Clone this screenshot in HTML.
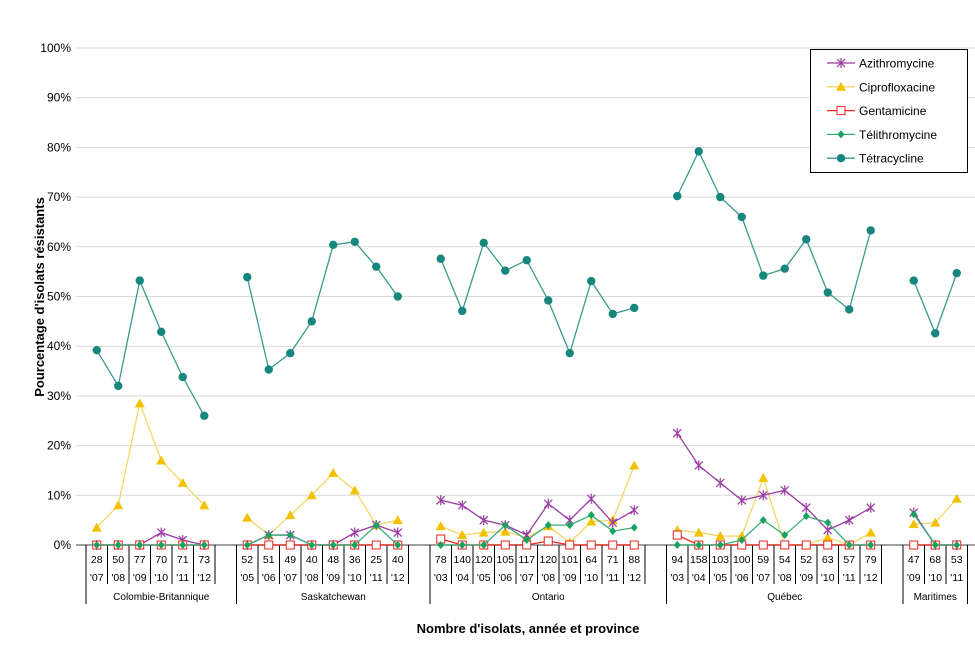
<!DOCTYPE html>
<html><head><meta charset="utf-8"><style>
body{margin:0;background:#fff;font-family:"Liberation Sans",sans-serif;}
svg text{font-family:"Liberation Sans",sans-serif;}
</style></head><body>
<svg id="chart" width="975" height="647" xmlns="http://www.w3.org/2000/svg">
<g id="grid"></g>
<g id="yaxis"></g>
<g id="xaxis"></g>
<g id="series"></g>
<text transform="translate(44,297) rotate(-90)" text-anchor="middle" font-size="13" font-weight="bold" fill="#000">Pourcentage d'isolats résistants</text>
<text x="528" y="633" text-anchor="middle" font-size="13" font-weight="bold" fill="#000">Nombre d'isolats, année et province</text>
<g id="legend"></g>
</svg>
<script>
const groups = ["Colombie-Britannique","Saskatchewan","Ontario","Québec","Maritimes"];
const counts = [["28","50","77","70","71","73"],["52","51","49","40","48","36","25","40"],["78","140","120","105","117","120","101","64","71","88"],["94","158","103","100","59","54","52","63","57","79"],["47","68","53"]];
const years = [["'07","'08","'09","'10","'11","'12"],["'05","'06","'07","'08","'09","'10","'11","'12"],["'03","'04","'05","'06","'07","'08","'09","'10","'11","'12"],["'03","'04","'05","'06","'07","'08","'09","'10","'11","'12"],["'09","'10","'11"]];
const azithro = [[0,0,0,2.5,1,0],[0,2,2,0,0,2.5,4,2.5],[9,8,5,4,2,8.3,5,9.3,4.5,7],[22.5,16,12.5,9,10,11,7.5,3,5,7.5],[6.5,0,0]];
const cipro = [[3.5,8,28.5,17,12.5,8],[5.5,2,6,10,14.5,11,4,5],[3.8,2,2.5,2.7,1.5,3.8,0.5,4.7,5,16],[3,2.5,1.8,1.8,13.5,0,0,1.5,0,2.5],[4.2,4.5,9.3]];
const genta = [[0,0,0,0,0,0],[0,0,0,0,0,0,0,0],[1.2,0,0,0,0,0.8,0,0,0,0],[2,0,0,0,0,0,0,0,0,0],[0,0,0]];
const telithro = [[0,0,0,0,0,0],[0,2,2,0,0,0,4,0],[0,0,0,4,1,4,4,6,2.8,3.5],[0,0,0,1,5,2,5.8,4.5,0,0],[6.2,0,0]];
const tetra = [[39.2,32,53.2,42.9,33.8,26],[53.9,35.3,38.6,45,60.4,61,56,50],[57.6,47.1,60.8,55.2,57.3,49.2,38.6,53.1,46.5,47.7],[70.2,79.2,70,66,54.2,55.6,61.5,50.8,47.4,63.3],[53.2,42.6,54.7]];
const yTicks = [0,10,20,30,40,50,60,70,80,90,100];

const NS="http://www.w3.org/2000/svg";
const X0=86, SLOT=21.5, Y0=545, Y100=48;
const yS=v=>Y0-(Y0-Y100)*v/100;
const starts=[];let s=0;groups.forEach((g,i)=>{starts.push(s);s+=counts[i].length+1;});
const xS=(gi,i)=>X0+(starts[gi]+i+0.5)*SLOT;
function el(tag,attrs,parent){const e=document.createElementNS(NS,tag);for(const k in attrs)e.setAttribute(k,attrs[k]);parent.appendChild(e);return e;}
const grid=document.getElementById('grid'),yax=document.getElementById('yaxis'),xax=document.getElementById('xaxis'),ser=document.getElementById('series'),leg=document.getElementById('legend');
yTicks.forEach(t=>{
  if(t>0){const l=el('line',{x1:76,x2:975,y1:yS(t),y2:yS(t),stroke:'#d9d9d9','stroke-width':1},grid);
  
  }
  const tx=el('text',{x:71,y:yS(t)+4,'text-anchor':'end','font-size':12,fill:'#000'},yax);
  tx.textContent=t+'%';
  
  
});
el('line',{x1:76,x2:975,y1:Y0,y2:Y0,stroke:'#808080','stroke-width':1.5},xax);
groups.forEach((g,gi)=>{
  const gx0=X0+starts[gi]*SLOT, n=counts[gi].length, gx1=gx0+(n+1)*SLOT;
  el('line',{x1:gx0,x2:gx0,y1:Y0,y2:604,stroke:'#000','stroke-width':1},xax);
  if(gi===groups.length-1) el('line',{x1:X0+s*SLOT-SLOT,x2:X0+s*SLOT-SLOT,y1:Y0,y2:604,stroke:'#000','stroke-width':1},xax);
  for(let i=0;i<n;i++){
    const cx=xS(gi,i);
    const xr=gx0+(i+1)*SLOT; if(!(gi===groups.length-1&&i===n-1)) el('line',{x1:xr,x2:xr,y1:Y0,y2:584,stroke:'#000','stroke-width':1},xax);
    const a=el('text',{x:cx,y:563,'text-anchor':'middle','font-size':10.5,fill:'#000'},xax);a.textContent=counts[gi][i];
    
    
    const b=el('text',{x:cx,y:581,'text-anchor':'middle','font-size':10.5,fill:'#000'},xax);b.textContent=years[gi][i];
    
    
  }
  const lbl=el('text',{x:(gx0+(gi===groups.length-1?gx0+n*SLOT:gx1))/2,y:600,'text-anchor':'middle','font-size':10,fill:'#000'},xax);
  lbl.textContent=g;
  
  
});
function marker(type,x,y,col,p){
  if(type==='circle') el('circle',{cx:x,cy:y,r:4.2,fill:col},p);
  else if(type==='tri') el('polygon',{points:`${x},${y-5} ${x+5},${y+4} ${x-5},${y+4}`,fill:col},p);
  else if(type==='sq') el('rect',{x:x-4,y:y-4,width:8,height:8,fill:'#fff',stroke:col,'stroke-width':1},p);
  else if(type==='dia') el('polygon',{points:`${x},${y-4} ${x+3.5},${y} ${x},${y+4} ${x-3.5},${y}`,fill:col},p);
  else if(type==='star'){const g=el('g',{stroke:col,'stroke-width':1.2},p);
    el('line',{x1:x-4,y1:y-4,x2:x+4,y2:y+4},g);el('line',{x1:x-4,y1:y+4,x2:x+4,y2:y-4},g);el('line',{x1:x,y1:y-5,x2:x,y2:y+5},g);}
}
const seriesDefs=[
 {name:'Tétracycline',data:tetra,col:'#17877d',line:'#3a9a90',m:'circle',key:'tetracycline'},
 {name:'Ciprofloxacine',data:cipro,col:'#f2c200',line:'#f5d66a',m:'tri',key:'ciprofloxacine'},
 {name:'Azithromycine',data:azithro,col:'#9b3aa3',line:'#9b3aa3',m:'star',key:'azithromycine'},
 {name:'Gentamicine',data:genta,col:'#e8261e',line:'#e8261e',m:'sq',key:'gentamicine'},
 {name:'Télithromycine',data:telithro,col:'#1aa061',line:'#3aae78',m:'dia',key:'telithromycine'}
];
seriesDefs.forEach(sd=>{
  const g=el('g',{},ser);
  
  
  sd.data.forEach((arr,gi)=>{
    const pts=arr.map((v,i)=>xS(gi,i)+','+yS(v)).join(' ');
    el('polyline',{points:pts,fill:'none',stroke:sd.line,'stroke-width':1.3},g);
    arr.forEach((v,i)=>marker(sd.m,xS(gi,i),yS(v),sd.col,g));
  });
});
el('rect',{x:810.5,y:49.5,width:157,height:123,fill:'#fff',stroke:'#000','stroke-width':1},leg);
const legOrder=[2,1,3,4,0];
legOrder.forEach((si,k)=>{
  const sd=seriesDefs[si],y=63+k*23.8;
  const g=el('g',{},leg);
  
  
  el('line',{x1:827,x2:855,y1:y,y2:y,stroke:sd.line,'stroke-width':1.3},g);
  marker(sd.m,841,y,sd.col,g);
  const t=el('text',{x:859,y:y+4.5,'font-size':12,fill:'#000'},g);t.textContent=sd.name;
});
</script>
</body></html>
